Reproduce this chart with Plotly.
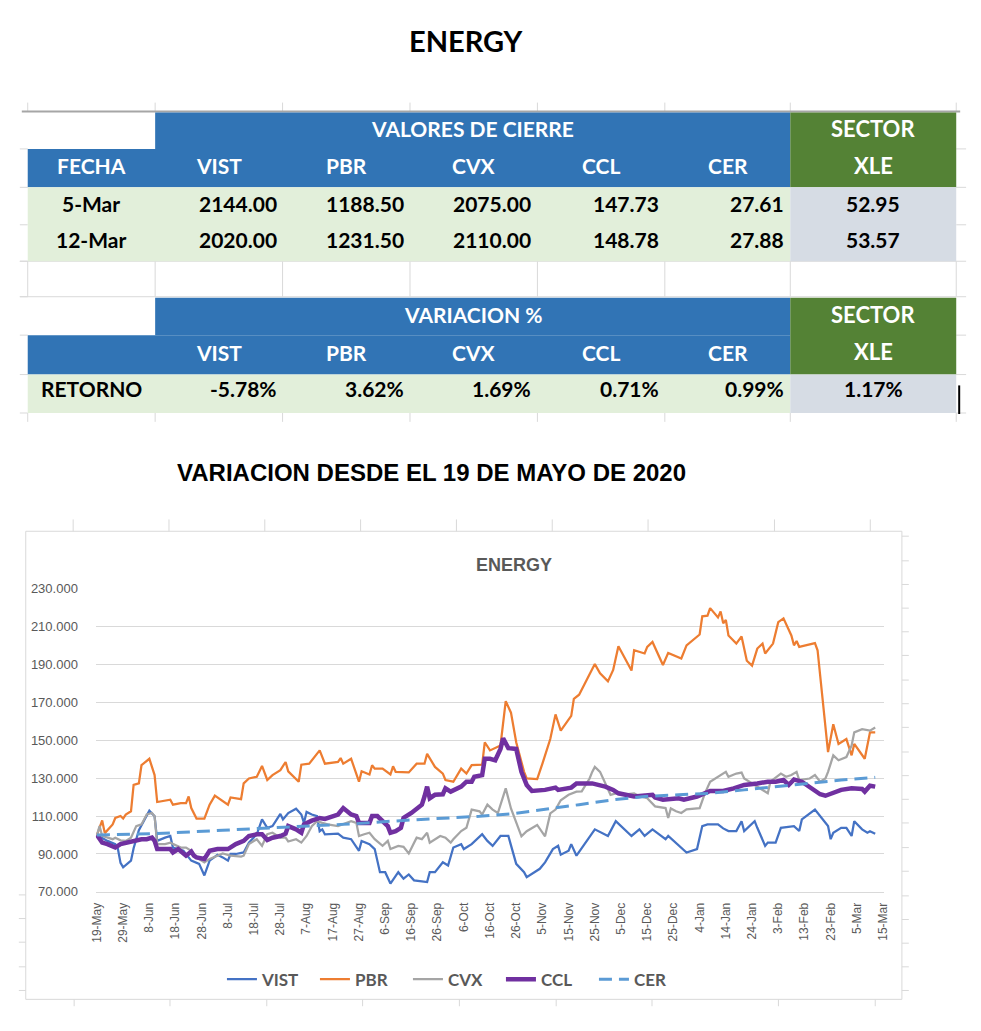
import plotly.graph_objects as go
import pandas as pd

W, H = 981, 1031

# ------------------------------------------------------------------ data
TITLE = "ENERGY"
SUBTITLE = "VARIACION DESDE EL 19 DE MAYO DE 2020"
CHART_TITLE = "ENERGY"

TICKERS = ["VIST", "PBR", "CVX", "CCL", "CER"]
SECTOR_TICKER = "XLE"
TABLE_DATES = ["5-Mar", "12-Mar"]
CLOSE_5_MAR = [2144.00, 1188.50, 2075.00, 147.73, 27.61]
CLOSE_12_MAR = [2020.00, 1231.50, 2110.00, 148.78, 27.88]
XLE_CLOSE = [52.95, 53.57]
RETURNS_PCT = [-5.78, 3.62, 1.69, 0.71, 0.99]
XLE_RETURN_PCT = 1.17

BASE_DATE = "2020-05-19"
TICK_DATES = ["2020-05-19", "2020-05-29", "2020-06-08", "2020-06-18", "2020-06-28",
              "2020-07-08", "2020-07-18", "2020-07-28", "2020-08-07", "2020-08-17",
              "2020-08-27", "2020-09-06", "2020-09-16", "2020-09-26", "2020-10-06",
              "2020-10-16", "2020-10-26", "2020-11-05", "2020-11-15", "2020-11-25",
              "2020-12-05", "2020-12-15", "2020-12-25", "2021-01-04", "2021-01-14",
              "2021-01-24", "2021-02-03", "2021-02-13", "2021-02-23", "2021-03-05",
              "2021-03-15"]
TICK_LABELS = ["19-May", "29-May", "8-Jun", "18-Jun", "28-Jun", "8-Jul", "18-Jul",
               "28-Jul", "7-Aug", "17-Aug", "27-Aug", "6-Sep", "16-Sep", "26-Sep",
               "6-Oct", "16-Oct", "26-Oct", "5-Nov", "15-Nov", "25-Nov", "5-Dec",
               "15-Dec", "25-Dec", "4-Jan", "14-Jan", "24-Jan", "3-Feb", "13-Feb",
               "23-Feb", "5-Mar", "15-Mar"]

# series: days since 19-May-2020 and index value (base 100)
VIST_DAYS = [0, 4, 7, 8, 9, 10, 13, 14, 16, 19, 20, 22, 23, 26, 28, 29, 31, 33, 35, 36, 39, 41,
             43, 46, 48, 50, 51, 53, 56, 58, 61, 63, 65, 67, 70, 71, 73, 76, 78, 79, 80, 82, 84,
             85, 86, 87, 92, 94, 97, 100, 101, 104, 106, 108, 110, 112, 115, 117, 119, 121, 124,
             126, 127, 129, 132, 134, 136, 139, 140, 143, 147, 149, 151, 154, 157, 160, 163, 164,
             169, 171, 174, 176, 177, 180, 181, 183, 190, 195, 198, 204, 207, 209, 212, 217, 218,
             225, 229, 231, 233, 237, 239, 241, 244, 246, 247, 251, 252, 255, 256, 259, 261, 266,
             268, 269, 274, 276, 279, 280, 281, 284, 286, 288, 289, 292, 294, 295, 297]
VIST_VALUES = [100.0, 96.9, 95.2, 92.7, 85.3, 83.0, 86.5, 93.0, 102.6, 110.8, 112.8, 109.9, 96.9,
               98.6, 99.5, 93.4, 92.6, 91.7, 88.2, 86.5, 84.8, 78.7, 86.5, 89.6, 88.2, 86.5, 90.0,
               90.0, 90.8, 96.0, 100.4, 108.2, 103.8, 104.7, 111.1, 108.2, 111.6, 113.9, 110.8,
               106.4, 112.2, 110.8, 110.0, 102.0, 103.0, 100.3, 100.7, 98.6, 97.8, 91.7, 96.9,
               95.2, 92.6, 80.4, 80.4, 74.4, 80.4, 77.0, 79.2, 76.1, 75.6, 75.2, 80.4, 80.4, 85.6,
               83.9, 93.4, 95.2, 92.6, 95.2, 100.4, 96.9, 94.3, 99.5, 99.5, 84.8, 80.4, 77.8, 82.2,
               85.6, 92.6, 94.3, 89.6, 91.7, 95.2, 89.1, 103.0, 99.5, 107.3, 99.5, 103.0, 99.5,
               103.0, 97.8, 99.5, 90.8, 92.6, 104.7, 105.6, 105.6, 103.5, 102.1, 102.1, 107.3,
               102.1, 107.3, 103.8, 94.3, 96.0, 96.0, 103.8, 104.7, 102.1, 108.2, 113.4, 109.9,
               104.7, 97.8, 101.2, 103.8, 103.8, 99.5, 107.3, 103.0, 101.2, 102.0, 100.7]

PBR_DAYS = [0, 2, 3, 6, 7, 9, 10, 11, 13, 14, 16, 17, 20, 22, 23, 28, 29, 32, 34, 35, 36, 38, 41,
            43, 45, 48, 50, 51, 55, 56, 58, 61, 63, 65, 67, 70, 72, 73, 77, 78, 81, 85, 87, 92, 93,
            94, 97, 100, 101, 104, 105, 106, 109, 112, 113, 114, 119, 122, 125, 126, 129, 132,
            133, 136, 139, 141, 143, 147, 148, 150, 154, 156, 158, 160, 163, 164, 168, 170, 173,
            175, 177, 181, 182, 184, 190, 192, 195, 197, 199, 204, 205, 209, 210, 212, 216, 218,
            223, 225, 230, 231, 233, 234, 237, 238, 239, 240, 241, 244, 246, 248, 250, 252, 254,
            255, 258, 260, 262, 265, 266, 267, 268, 274, 275, 279, 281, 283, 286, 288, 289, 293,
            295, 297]
PBR_VALUES = [100.0, 107.7, 101.0, 105.6, 109.0, 110.0, 108.7, 110.8, 112.5, 126.4, 127.2, 136.8,
              140.2, 131.6, 117.4, 118.6, 116.0, 116.8, 116.8, 120.3, 114.2, 108.7, 108.7, 116.0,
              120.8, 117.7, 116.0, 119.8, 118.9, 127.2, 129.8, 130.7, 136.4, 129.0, 131.6, 134.2,
              138.5, 133.6, 128.1, 137.1, 137.6, 144.6, 137.6, 138.5, 140.6, 137.6, 140.2, 128.1,
              133.6, 131.9, 136.8, 135.0, 135.0, 131.9, 136.2, 133.3, 133.0, 137.6, 137.6, 142.8,
              135.9, 132.4, 129.0, 128.1, 135.0, 132.4, 136.8, 137.1, 148.9, 144.6, 147.2, 170.6,
              164.5, 148.9, 133.3, 129.8, 129.5, 137.6, 150.6, 163.6, 155.0, 162.8, 171.8, 174.0,
              190.1, 185.3, 181.0, 187.0, 199.5, 186.7, 197.4, 195.7, 199.2, 201.8, 189.6, 196.0,
              193.1, 200.0, 205.7, 215.3, 215.6, 219.6, 214.7, 217.9, 211.6, 213.4, 205.2, 200.9,
              204.7, 191.9, 189.3, 198.3, 200.9, 195.7, 200.9, 212.2, 214.2, 205.2, 200.0, 202.3,
              199.2, 201.2, 197.4, 143.7, 158.4, 148.0, 150.6, 142.0, 148.0, 140.2, 154.1, 154.1]

CVX_DAYS = [0, 1, 2, 6, 7, 9, 11, 13, 15, 17, 19, 21, 22, 23, 26, 28, 32, 34, 36, 38, 41, 43, 46,
            48, 51, 55, 56, 58, 61, 63, 65, 67, 70, 72, 73, 76, 78, 80, 82, 84, 86, 88, 92, 94, 97,
            99, 100, 102, 104, 106, 109, 111, 112, 115, 117, 119, 122, 124, 126, 127, 129, 131,
            133, 135, 136, 139, 141, 143, 146, 147, 149, 151, 153, 156, 158, 162, 164, 168, 171,
            173, 175, 177, 180, 183, 185, 188, 189, 190, 192, 196, 198, 200, 205, 207, 210, 213,
            217, 218, 219, 221, 223, 225, 230, 232, 234, 240, 241, 244, 246, 247, 251, 255, 256,
            257, 261, 263, 265, 267, 268, 272, 274, 276, 278, 279, 281, 283, 286, 288, 289, 292,
            295, 297]
CVX_VALUES = [100.0, 104.7, 99.5, 97.8, 98.6, 97.2, 96.9, 98.6, 104.7, 105.6, 110.8, 111.6, 109.9,
              95.2, 95.2, 96.0, 93.4, 93.4, 91.7, 88.2, 85.6, 87.4, 89.1, 90.3, 89.1, 88.6, 89.1,
              95.2, 97.8, 94.3, 100.4, 101.2, 98.6, 98.6, 96.6, 97.8, 96.0, 99.5, 104.7, 107.3,
              106.4, 105.6, 104.7, 105.6, 107.3, 106.4, 99.5, 100.4, 101.2, 97.8, 94.3, 96.9, 92.6,
              94.3, 93.8, 90.3, 98.6, 97.8, 101.2, 96.0, 97.8, 99.5, 98.6, 96.0, 97.8, 102.1, 103.8,
              113.4, 112.5, 110.8, 116.0, 113.4, 111.6, 124.6, 114.0, 99.3, 102.0, 105.3, 99.3,
              111.4, 113.4, 118.3, 121.2, 122.9, 123.0, 129.8, 133.3, 135.9, 133.3, 121.2, 122.0,
              121.2, 122.0, 120.5, 119.4, 115.1, 114.2, 109.0, 114.0, 112.5, 111.6, 113.5, 114.2,
              122.0, 128.1, 133.3, 130.7, 132.4, 132.9, 129.8, 126.4, 122.9, 122.0, 128.1, 132.4,
              130.7, 131.6, 133.3, 129.0, 129.8, 131.6, 128.1, 129.8, 133.3, 142.0, 139.4, 141.1,
              147.2, 154.1, 155.8, 155.0, 156.7]

CCL_DAYS = [0, 2, 4, 7, 9, 11, 14, 17, 19, 21, 22, 23, 28, 29, 31, 33, 34, 36, 37, 38, 41, 43, 46,
            50, 53, 56, 58, 61, 63, 65, 67, 70, 72, 73, 75, 76, 78, 79, 82, 85, 87, 88, 92, 94, 97,
            99, 100, 104, 105, 107, 109, 111, 112, 114, 116, 117, 120, 124, 125, 126, 127, 129,
            132, 133, 135, 139, 141, 143, 144, 147, 148, 150, 152, 154, 155, 157, 160, 162, 164,
            166, 171, 175, 176, 181, 183, 189, 194, 197, 199, 205, 212, 213, 216, 222, 224, 229,
            234, 239, 243, 247, 252, 256, 259, 262, 264, 266, 269, 272, 276, 278, 281, 284, 288,
            292, 293, 295, 297]
CCL_VALUES = [100.0, 96.0, 95.2, 93.4, 95.2, 96.0, 96.9, 97.8, 97.8, 98.6, 96.9, 92.6, 92.6, 90.8,
              92.6, 90.0, 89.1, 91.3, 89.1, 88.2, 87.4, 91.7, 92.6, 92.6, 95.2, 96.9, 99.5, 100.4,
              100.4, 97.4, 98.6, 99.5, 100.7, 104.7, 103.8, 103.0, 101.2, 105.6, 107.6, 109.0,
              108.5, 109.0, 110.8, 114.2, 110.8, 110.0, 106.4, 106.4, 110.0, 110.0, 107.4, 104.7,
              101.2, 102.0, 103.8, 109.0, 111.6, 116.0, 120.3, 125.5, 119.4, 121.2, 121.5, 124.6,
              122.9, 125.5, 128.1, 128.1, 130.7, 131.6, 140.2, 140.2, 139.4, 145.4, 151.0, 145.8,
              145.4, 133.3, 126.4, 123.2, 123.8, 125.0, 123.8, 125.0, 127.2, 127.2, 125.5, 123.8,
              122.0, 120.3, 121.2, 119.8, 118.6, 119.4, 118.6, 120.3, 123.2, 123.2, 124.6, 126.4,
              127.2, 128.1, 128.1, 129.0, 126.4, 129.3, 128.1, 125.5, 121.5, 120.7, 122.0, 123.8,
              124.6, 124.3, 122.9, 126.0, 125.5]

CER_DAYS = [0, 23, 48, 73, 99, 117, 146, 159, 171, 184, 197, 209, 222, 234, 247, 259, 272, 284, 297]
CER_VALUES = [100.0, 100.8, 102.5, 104.3, 106.0, 107.7, 109.9, 111.3, 113.4, 116.0, 118.6, 120.3,
              121.2, 122.0, 123.8, 125.5, 127.2, 129.0, 130.4]

SERIES = [
    ("VIST", VIST_DAYS, VIST_VALUES, "#4472C4", 2.25, "solid"),
    ("PBR", PBR_DAYS, PBR_VALUES, "#ED7D31", 2.25, "solid"),
    ("CVX", CVX_DAYS, CVX_VALUES, "#A5A5A5", 2.25, "solid"),
    ("CCL", CCL_DAYS, CCL_VALUES, "#7030A0", 4.5, "solid"),
    ("CER", CER_DAYS, CER_VALUES, "#5B9BD5", 3.0, "13px,7px"),
]

# ------------------------------------------------------------------ style
CAL = "Lato, Roboto, sans-serif"
SANS = "Liberation Sans, Arial, sans-serif"
BLUE = "#3174B5"
GREEN = "#548235"
LIGHT_GREEN = "#E2EFDA"
LIGHT_GREYBLUE = "#D6DCE4"
GRID = "#D9D9D9"
AXIS_TEXT = "#595959"


def fx(x):
    return x / W


def fy(y):
    return 1 - y / H


shapes = []
annotations = []


def rect(x0, y0, x1, y1, fill, layer="above"):
    shapes.append(dict(type="rect", xref="paper", yref="paper",
                       x0=fx(x0), x1=fx(x1), y0=fy(y1), y1=fy(y0),
                       fillcolor=fill, line=dict(width=0), layer=layer))


def line(x0, y0, x1, y1, color=GRID, width=1, layer="above"):
    shapes.append(dict(type="line", xref="paper", yref="paper",
                       x0=fx(x0), x1=fx(x1), y0=fy(y0), y1=fy(y1),
                       line=dict(color=color, width=width), layer=layer))


def text(x, y, s, size=21, color="black", anchor="center", family=CAL, bold=True):
    if family == CAL:
        y -= 0.23 * size  # Lato sits low in its line box
    annotations.append(dict(xref="paper", yref="paper", x=fx(x), y=fy(y), text=s,
                            showarrow=False, xanchor=anchor, yanchor="middle",
                            font=dict(family=family, size=size, color=color,
                                      weight="bold" if bold else "normal")))


# ------------------------------------------------------------------ table
COLS = [22, 151, 280, 409, 538, 667, 794, 962]
centers = [(COLS[i] + COLS[i + 1]) / 2 for i in range(len(COLS) - 1)]

# spreadsheet grid remnants
for cx in COLS:
    line(cx, 97, cx, 106)
    line(cx, 258, cx, 294)
    line(cx, 412, cx, 421)
for ry in [144, 183, 221, 258, 294, 333, 373, 412]:
    line(14, ry, 22, ry)
    line(962, ry, 972, ry)
line(14, 258, 962, 258)
line(14, 294, 962, 294)
line(16, 106, 966, 106, color="#A6A6A6", width=2)

# block 1
rect(COLS[1], 107, COLS[6], 144, BLUE)
rect(COLS[0], 144, COLS[6], 183, BLUE)
rect(COLS[6], 107, COLS[7], 183, GREEN)
rect(COLS[0], 183, COLS[6], 258, LIGHT_GREEN)
rect(COLS[6], 183, COLS[7], 258, LIGHT_GREYBLUE)
# block 2
rect(COLS[1], 295, COLS[6], 333, BLUE)
rect(COLS[0], 333, COLS[6], 373, BLUE)
rect(COLS[6], 295, COLS[7], 373, GREEN)
rect(COLS[0], 373, COLS[6], 412, LIGHT_GREEN)
rect(COLS[6], 373, COLS[7], 412, LIGHT_GREYBLUE)
line(965, 384, 965, 413, color="black", width=2)

text(466, 41, TITLE, size=29)

text((COLS[1] + COLS[6]) / 2, 128, "VALORES DE CIERRE", color="white")
text(centers[6], 128, "SECTOR", color="white", size=22)
text(centers[6], 166, SECTOR_TICKER, color="white", size=22)
text(centers[0], 166, "FECHA", color="white")
for i, t in enumerate(TICKERS):
    text(centers[i + 1], 166, t, color="white")

for r, (d, vals, xle, yy) in enumerate(zip(TABLE_DATES, [CLOSE_5_MAR, CLOSE_12_MAR], XLE_CLOSE,
                                           [204, 241])):
    text(centers[0], yy, d)
    for i, v in enumerate(vals):
        text(COLS[i + 2] - 4, yy, f"{v:.2f}", anchor="right")
    text(centers[6], yy, f"{xle:.2f}")

text((COLS[1] + COLS[6]) / 2, 317, "VARIACION %", color="white")
text(centers[6], 317, "SECTOR", color="white", size=22)
text(centers[6], 355, SECTOR_TICKER, color="white", size=22)
for i, t in enumerate(TICKERS):
    text(centers[i + 1], 355, t, color="white")
text(centers[0], 392, "RETORNO")
for i, v in enumerate(RETURNS_PCT):
    text(COLS[i + 2] - 4, 392, f"{v:.2f}%", anchor="right")
text(centers[6], 392, f"{XLE_RETURN_PCT:.2f}%")

text(431, 472, SUBTITLE, size=24, family=SANS)

# ------------------------------------------------------------------ chart frame
shapes.append(dict(type="rect", xref="paper", yref="paper", x0=fx(20), x1=fx(907),
                   y0=fy(1007), y1=fy(532), line=dict(color=GRID, width=1),
                   fillcolor="rgba(0,0,0,0)", layer="below"))
for tx in [68, 165, 262, 359, 456, 553, 650, 778, 875]:
    line(tx, 520, tx, 532)
for tx in [69, 166, 264, 361, 459, 557, 654, 782, 880]:
    line(tx, 1007, tx, 1014)
for ty in [537, 562, 586, 610, 634, 658, 683, 707, 731, 756, 780, 804, 828, 853, 877, 902,
           926, 950, 974, 998]:
    line(907, ty, 914, ty)
for ty in [901, 925, 949, 974, 998]:
    line(13, ty, 20, ty)

text(514, 566, CHART_TITLE, size=18, color=AXIS_TEXT, family=SANS)

# ------------------------------------------------------------------ traces
base = pd.Timestamp(BASE_DATE)
fig = go.Figure()
for name, days, vals, color, width, dash in SERIES:
    dates = base + pd.to_timedelta(days, unit="D")
    fig.add_trace(go.Scatter(x=dates, y=vals, name=name, mode="lines",
                             line=dict(color=color, width=width, dash=dash)))

fig.update_layout(
    width=W, height=H, margin=dict(l=0, r=0, t=0, b=0),
    paper_bgcolor="white", plot_bgcolor="rgba(0,0,0,0)",
    shapes=shapes, annotations=annotations,
    showlegend=True,
    legend=dict(orientation="h", x=fx(454), xanchor="center", y=fy(987), yanchor="middle",
                font=dict(family=CAL, size=17, color=AXIS_TEXT, weight="bold"),
                bgcolor="rgba(0,0,0,0)", itemwidth=30, tracegroupgap=0, entrywidth=48),
    xaxis=dict(type="date", domain=[fx(91), fx(889)],
               range=["2020-05-18 14:24", "2021-03-15 09:36"],
               tickmode="array", tickvals=TICK_DATES, ticktext=TICK_LABELS,
               tickangle=-90, tickfont=dict(family=SANS, size=12, color=AXIS_TEXT),
               showgrid=False, zeroline=False, showline=True, linecolor=GRID, linewidth=1,
               ticks="", ticklabelstandoff=5, fixedrange=True),
    yaxis=dict(domain=[fy(898), fy(590)], range=[70, 230], tick0=70, dtick=20,
               tickformat=".3f", tickfont=dict(family=SANS, size=13, color=AXIS_TEXT),
               showgrid=True, gridcolor=GRID, gridwidth=1, zeroline=False, showline=False,
               ticks="", ticklabelstandoff=17, fixedrange=True),
)

fig.write_html("out.html", config={"displayModeBar": False},
               post_script="document.body.style.margin='0px';"
                           "document.body.style.overflow='hidden';")
